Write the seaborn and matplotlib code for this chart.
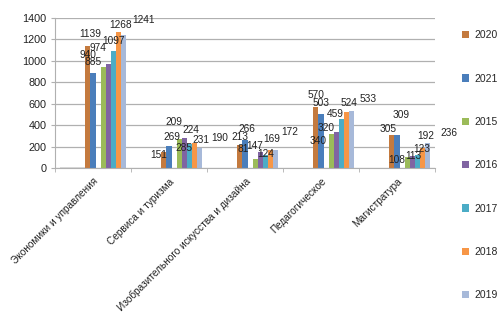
import numpy as np
import pandas as pd
import matplotlib
matplotlib.use("Agg")
import matplotlib.pyplot as plt
from matplotlib.patches import Patch
import seaborn as sns

categories = ["Экономики и управления", "Сервиса и туризма",
              "Изобразительного искусства и дизайна", "Педагогическое", "Магистратура"]
v2020 = [1139, 151, 213, 570, 305]
v2021 = [885, 209, 266, 503, 309]
v2015 = [940, 269, 81, 320, 108]
v2016 = [974, 285, 147, 340, 113]
v2017 = [1097, 224, 124, 459, 123]
v2018 = [1268, 231, 169, 524, 192]
v2019 = [1241, 190, 172, 533, 236]
floor_vals = [12, 0, 0, 0, 0]
legend_order = ["2020", "2021", "2015", "2016", "2017", "2018", "2019"]

series = {"2020": v2020, "2021": v2021, "2015": v2015, "2016": v2016,
          "2017": v2017, "2018": v2018, "2019": v2019}
colors = {"2020": "#C47A3E", "2021": "#4A7EBB", "2015": "#9BBB59", "2016": "#8064A2",
          "2017": "#4BACC6", "2018": "#F79646", "2019": "#A7B9D9"}

# label offsets (pixels) per series, per category - styling only
label_dx = {"2020": [2, -5, 0, 0, -4], "2021": [0, 5, 2, 0, 4],
            "2015": [-15, -7, -12, -5, -10], "2016": [-10, 0, -5, -18, 1],
            "2017": [0, 2, 0, -6, 4], "2018": [2, 7, 1, 3, 3],
            "2019": [20, 20, 14, 17, 22]}
label_dy = {"2020": [12, -3, 8, 12, 6], "2021": [11, 24, 11, 11, 20],
            "2015": [12, 2, 10, 6, -3], "2016": [16, -10, 6, -9, 0],
            "2017": [10, 14, 1, 5, 6], "2018": [7, 3, 11, 9, 12],
            "2019": [15, 10, 18, 12, 10]}

hue_order = ["b1", "b2", "b3", "b4", "b5", "2020", "2021", "gap",
             "2015", "2016", "2017", "2018", "2019"]
rows = []
for h in hue_order:
    if h.startswith("b"):
        vals = floor_vals
    elif h == "gap":
        vals = [0] * len(categories)
    else:
        vals = series[h]
    for c, v in zip(categories, vals):
        rows.append({"cat": c, "series": h, "value": v})
df = pd.DataFrame(rows)

palette = {h: colors.get(h, "#D9D9D9") for h in hue_order}
palette["gap"] = "#FFFFFF"

sns.set_style("white")
plt.rcParams["font.family"] = ["Liberation Sans", "DejaVu Sans"]

fig = plt.figure(figsize=(5.0, 3.22), dpi=100)
ax = fig.add_axes([0.11, 0.478, 0.76, 0.466])
sns.barplot(data=df, x="cat", y="value", hue="series", hue_order=hue_order,
            order=categories, palette=palette, width=13 / 15, legend=False,
            saturation=1, ax=ax, errorbar=None, linewidth=0)

# data labels
for cont, h in zip(ax.containers, hue_order):
    if h not in series:
        continue
    for i, (bar, v) in enumerate(zip(cont.patches, series[h])):
        x = bar.get_x() + bar.get_width() / 2
        ax.annotate(str(v), (x, bar.get_height()),
                    xytext=(label_dx[h][i], label_dy[h][i]),
                    textcoords="offset pixels", ha="center", va="center",
                    fontsize=7.3, color="#222222", annotation_clip=False)

ax.set_ylim(0, 1400)
ax.set_yticks(np.arange(0, 1401, 200))
ax.set_xlim(-0.5, len(categories) - 0.5)
ax.yaxis.grid(True, color="#B0B0B0", linewidth=0.9)
ax.set_axisbelow(True)
ax.set_xlabel("")
ax.set_ylabel("")
for s in ["top", "right"]:
    ax.spines[s].set_visible(False)
ax.spines["left"].set_color("#B0B0B0")
ax.spines["bottom"].set_color("#B0B0B0")
ax.tick_params(axis="y", labelsize=7.8, length=3, color="#B0B0B0", pad=3,
               left=True, labelcolor="#222222")
ax.set_xticks(range(len(categories)))
ax.set_xticklabels(categories, rotation=45, ha="right", rotation_mode="anchor",
                   fontsize=7.2, color="#222222")
ax.tick_params(axis="x", length=0, pad=6)
ax.set_xticks(np.arange(-0.5, len(categories), 1), minor=True)
ax.tick_params(axis="x", which="minor", length=3, color="#B0B0B0", bottom=True)

handles = [Patch(facecolor=colors[k], edgecolor="none") for k in legend_order]
fig.legend(handles, legend_order, loc="upper left", bbox_to_anchor=(0.905, 0.935),
           frameon=False, fontsize=7.5, labelspacing=3.2, handlelength=0.7,
           handleheight=0.7, handletextpad=0.5)

fig.savefig("out.png", dpi=100)
